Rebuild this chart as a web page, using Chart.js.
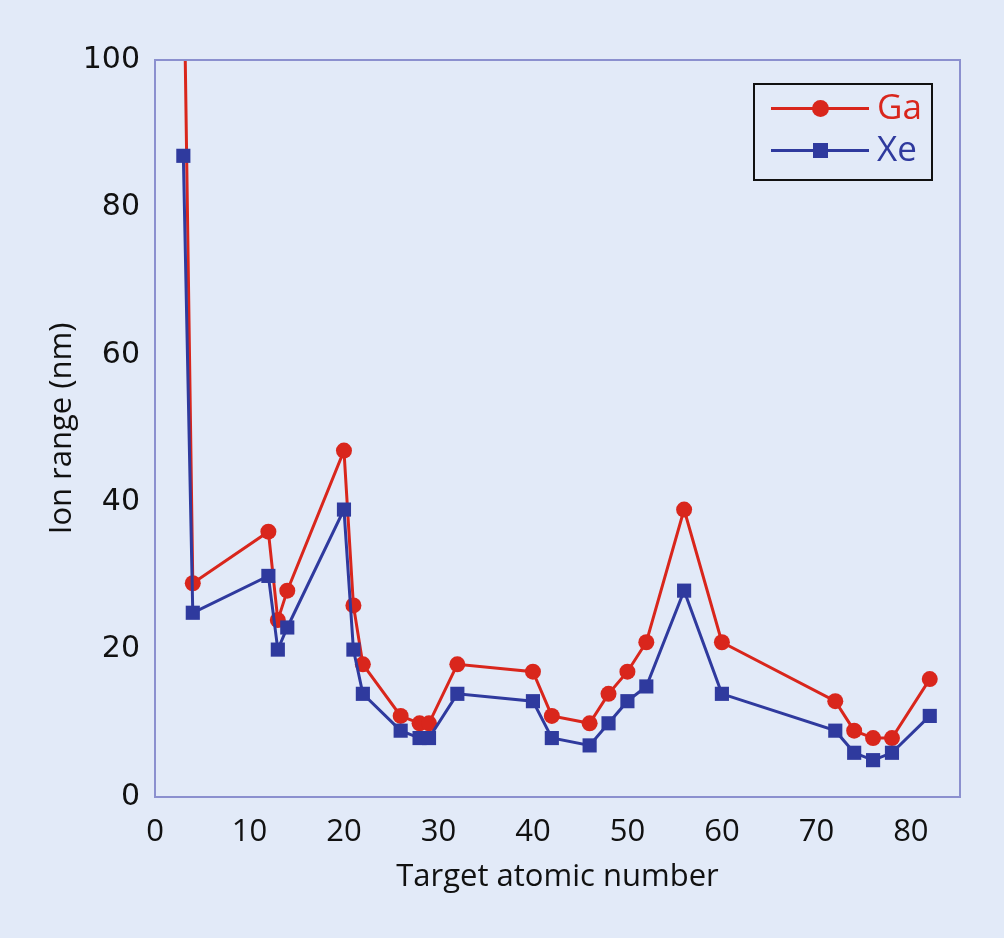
<!DOCTYPE html>
<html>
<head>
<meta charset="utf-8">
<script src="https://cdn.jsdelivr.net/npm/chart.js@4/dist/chart.umd.min.js"></script>
<style>
  html, body { margin: 0; padding: 0; background: #e2eaf8; }
  #wrap { position: relative; width: 1004px; height: 938px; }
  #legend {
    position: absolute; left: 753px; top: 83px; width: 176px; height: 94px;
    border: 2px solid #111; font-family: "Open Sans", sans-serif; font-size: 35px;
  }
  .row { position: absolute; left: 0; height: 40px; width: 100%; }
  .ln { position: absolute; left: 16px; width: 98px; top: 18px; height: 3px; }
  .mk { position: absolute; }
  .lbl { position: absolute; left: 122px; top: -5px; line-height: 44px; }
</style>
</head>
<body>
<div id="wrap">
  <canvas id="ionChart" width="1004" height="938"></canvas>
  <div id="legend">
    <div class="row" style="top:4px">
      <div class="ln" style="background:#d9261c"></div>
      <div class="mk" style="left:57px;top:11px;width:17px;height:17px;border-radius:50%;background:#d9261c"></div>
      <div class="lbl" style="color:#d9261c">Ga</div>
    </div>
    <div class="row" style="top:46px">
      <div class="ln" style="background:#2f3a9e"></div>
      <div class="mk" style="left:58px;top:12px;width:15px;height:15px;background:#2f3a9e"></div>
      <div class="lbl" style="color:#2f3a9e">Xe</div>
    </div>
  </div>
</div>
<script>
const atomicNumbers = [3, 4, 12, 13, 14, 20, 21, 22, 26, 28, 29, 32, 40, 42, 46, 48, 50, 52, 56, 60, 72, 74, 76, 78, 82];
const gaRange = [118, 29, 36, 24, 28, 47, 26, 18, 11, 10, 10, 18, 17, 11, 10, 14, 17, 21, 39, 21, 13, 9, 8, 8, 16];
const xeRange = [87, 25, 30, 20, 23, 39, 20, 14, 9, 8, 8, 14, 13, 8, 7, 10, 13, 15, 28, 14, 9, 6, 5, 6, 11];
const xTicks = [0, 10, 20, 30, 40, 50, 60, 70, 80];
const yTicks = [0, 20, 40, 60, 80, 100];

const red = '#d9261c';
const blue = '#2f3a9e';

function toPoints(ys) {
    return atomicNumbers.map((x, i) => ({ x: x, y: ys[i] }));
}

// kotak ungu di sekeliling area plot
const framePlugin = {
    id: 'frame',
    afterDraw(chart) {
        const { ctx, chartArea } = chart;
        ctx.save();
        ctx.strokeStyle = '#8b90cf';
        ctx.lineWidth = 2;
        ctx.strokeRect(chartArea.left, chartArea.top, chartArea.right - chartArea.left, chartArea.bottom - chartArea.top);
        ctx.restore();
    }
};

const ctx = document.getElementById('ionChart').getContext('2d');

new Chart(ctx, {
    type: 'line',
    data: {
        datasets: [{
            label: 'Xe',
            data: toPoints(xeRange),
            borderColor: blue,
            backgroundColor: blue,
            borderWidth: 3,
            pointStyle: 'rect',
            pointRadius: 10,
            pointBorderWidth: 0,
            tension: 0
        }, {
            label: 'Ga',
            data: toPoints(gaRange),
            borderColor: red,
            backgroundColor: red,
            borderWidth: 3,
            pointStyle: 'circle',
            pointRadius: 8,
            pointBorderWidth: 0,
            tension: 0
        }]
    },
    options: {
        responsive: false,
        animation: false,
        layout: {
            padding: { left: 0, top: 60, right: 44, bottom: 0 }
        },
        plugins: {
            legend: { display: false },
            tooltip: { enabled: false }
        },
        scales: {
            x: {
                type: 'linear',
                min: 0,
                max: 85.2,
                afterBuildTicks: (scale) => { scale.ticks = xTicks.map(v => ({ value: v })); },
                afterFit: (scale) => { scale.height = 141; },
                grid: { display: false, drawTicks: false },
                border: { display: false },
                ticks: {
                    color: '#111',
                    padding: 17,
                    font: { family: '"Open Sans", sans-serif', size: 31 }
                },
                title: {
                    display: true,
                    text: 'Target atomic number',
                    color: '#111',
                    font: { family: '"Open Sans", sans-serif', size: 31 },
                    padding: { top: 0, bottom: 42 }
                }
            },
            y: {
                min: 0,
                max: 100,
                afterBuildTicks: (scale) => { scale.ticks = yTicks.map(v => ({ value: v })); },
                afterFit: (scale) => { scale.width = 155; },
                grid: { display: false, drawTicks: false },
                border: { display: false },
                ticks: {
                    color: '#111',
                    padding: 15,
                    font: { family: '"DejaVu Sans", sans-serif', size: 30 }
                },
                title: {
                    display: true,
                    text: 'Ion range (nm)',
                    color: '#111',
                    font: { family: '"Open Sans", sans-serif', size: 31 },
                    padding: { top: 44, bottom: 0 }
                }
            }
        }
    },
    plugins: [framePlugin]
});
</script>
</body>
</html>
